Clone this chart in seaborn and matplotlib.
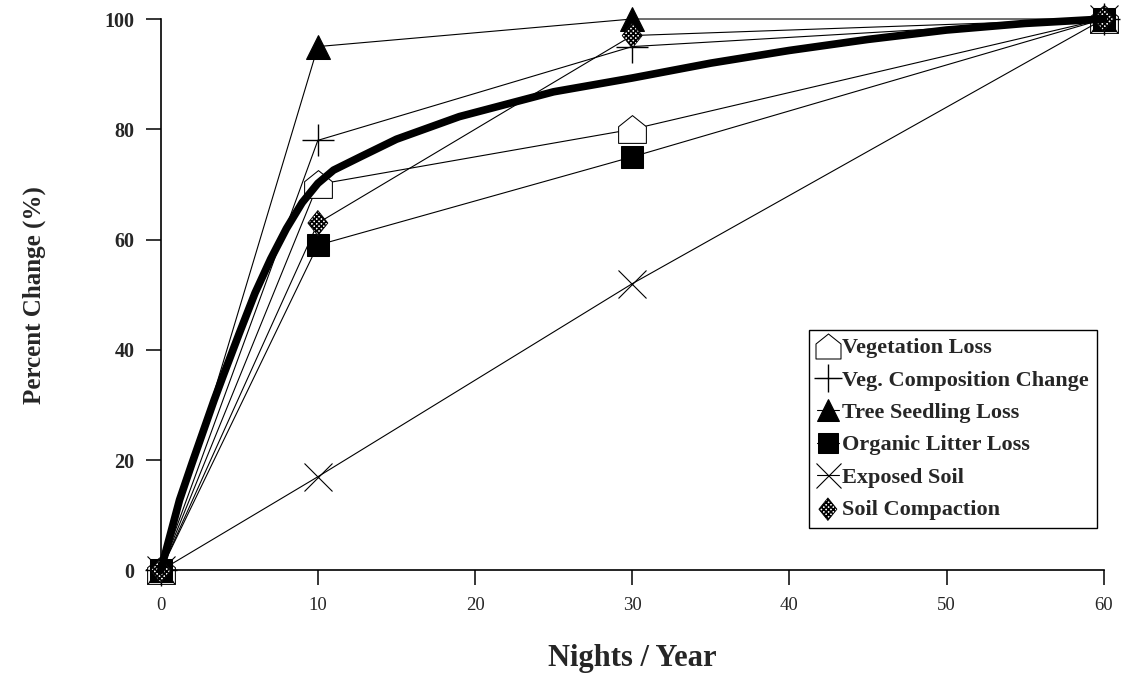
import numpy as np
import pandas as pd
import seaborn as sns
import matplotlib.pyplot as plt
from matplotlib.path import Path

# data
nights = [0, 10, 30, 60]
veg_loss = [0, 70, 80, 100]
veg_comp = [0, 78, 95, 100]
seedling = [0, 95, 100, 100]
litter = [0, 59, 75, 100]
exposed = [0, 17, 52, 100]
compaction = [0, 63, 97, 100]

# thick trend curve
curve_x = [0, 1.2, 2, 3.4, 4, 5, 6, 7, 8, 9, 10, 11, 12.7, 15, 19, 25, 30, 35, 40, 45, 50, 55, 60]
curve_y = [0, 12.8, 19.5, 30.9, 35.5, 43, 50.3, 56.5, 62, 66.7, 70.2, 72.6, 75, 78.2, 82.3, 86.8, 89.3, 92, 94.3, 96.3, 98, 99.2, 100]

sns.set_style('ticks')
plt.rcParams['font.family'] = ['Liberation Serif', 'DejaVu Serif']
plt.rcParams['hatch.linewidth'] = 1.2

house = Path([(-1, -1), (1, -1), (1, 0.2), (0, 1), (-1, 0.2), (-1, -1)],
             [Path.MOVETO, Path.LINETO, Path.LINETO, Path.LINETO, Path.LINETO, Path.CLOSEPOLY])
diamond = Path([(0, 1), (0.8, 0), (0, -1), (-0.8, 0), (0, 1)],
               [Path.MOVETO, Path.LINETO, Path.LINETO, Path.LINETO, Path.CLOSEPOLY])

fig = plt.figure(figsize=(11.23, 6.74), dpi=100)
ax = fig.add_axes([0.1431, 0.1536, 0.9828 - 0.1431, 0.9718 - 0.1536])

series = [
    ('Vegetation Loss', veg_loss, dict(marker=house, markersize=20, markerfacecolor='white')),
    ('Veg. Composition Change', veg_comp, dict(marker='+', markersize=23, markeredgewidth=1.0)),
    ('Tree Seedling Loss', seedling, dict(marker='^', markersize=17, markerfacecolor='black')),
    ('Organic Litter Loss', litter, dict(marker='s', markersize=16, markerfacecolor='black')),
    ('Exposed Soil', exposed, dict(marker='x', markersize=20, markeredgewidth=0.8)),
]

for name, vals, style in series:
    sns.lineplot(x=nights, y=vals, ax=ax, color='black', linewidth=0.8,
                 markeredgecolor='black', clip_on=False, label=name, **style)

# soil compaction: hatched diamond marker
sns.lineplot(x=nights, y=compaction, ax=ax, color='black', linewidth=0.8, clip_on=False)
sns.scatterplot(x=nights, y=compaction, ax=ax, marker=diamond, s=18 ** 2,
                facecolor='white', edgecolor='black', hatch='xxxxxxx', linewidth=0.6,
                clip_on=False, zorder=3, label='Soil Compaction')

# trend curve
sns.lineplot(x=curve_x, y=curve_y, ax=ax, sort=False, color='black', linewidth=5.5,
             clip_on=False, zorder=4)

ax.set_xlim(0, 60)
ax.set_ylim(0, 100)
ax.set_xticks(np.arange(0, 61, 10))
ax.set_yticks(np.arange(0, 101, 20))
sns.despine(ax=ax)
for s in ['left', 'bottom']:
    ax.spines[s].set_linewidth(1.2)
    ax.spines[s].set_color('black')
ax.tick_params(direction='out', length=11, width=1.1, color='black', pad=8, labelsize=13.5)
ax.tick_params(axis='y', labelsize=14.5)
for lab in ax.get_yticklabels():
    lab.set_fontweight('bold')

ax.set_xlabel('Nights / Year', fontsize=22, fontweight='bold', labelpad=22)
ax.set_ylabel('Percent Change (%)', fontsize=18, fontweight='bold', labelpad=42)

names = [s[0] for s in series] + ['Soil Compaction']
handles, labels = ax.get_legend_handles_labels()
lookup = dict(zip(labels, handles))
leg = ax.legend([lookup[n] for n in names], names, loc='upper left',
                bbox_to_anchor=(0.6875, 0.436), borderaxespad=0, frameon=True,
                fancybox=False, edgecolor='black', framealpha=1,
                prop={'size': 16, 'weight': 'bold'},
                handlelength=1.0, handletextpad=0.15, labelspacing=0.53,
                borderpad=0.35, markerscale=0.9)
leg.get_frame().set_linewidth(1.0)

fig.savefig('out.png', dpi=100)
